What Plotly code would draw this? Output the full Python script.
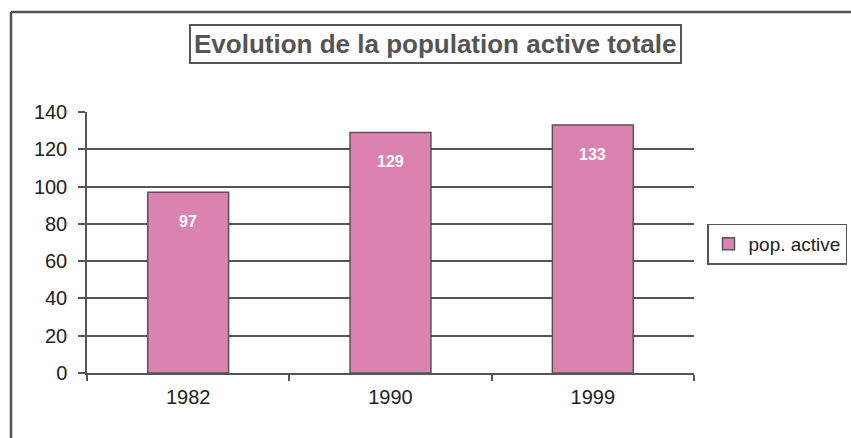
import plotly.graph_objects as go

years = ["1982", "1990", "1999"]
values = [97, 129, 133]
series_name = "pop. active"
title_text = "Evolution de la population active totale"
y_ticks = [0, 20, 40, 60, 80, 100, 120, 140]

FONT = "Liberation Sans"
GRAY = "#555555"

fig = go.Figure()
fig.add_trace(go.Bar(
    x=years, y=values, name=series_name,
    marker=dict(color="#db82b0", line=dict(color=GRAY, width=1.5)),
))

for i, v in enumerate(values):
    fig.add_annotation(x=i, y=v, text="<b>%d</b>" % v, showarrow=False,
                       yshift=-29, font=dict(family=FONT, size=16, color="white"))

fig.add_annotation(xref="paper", yref="paper", x=(435 - 87) / 607, y=(373 - 44) / 261,
                   text="<b>" + title_text + "</b>",
                   showarrow=False, font=dict(family=FONT, size=26, color=GRAY),
                   bordercolor=GRAY, borderwidth=2, borderpad=3, bgcolor="white",
                   xanchor="center", yanchor="middle")

# outer chart frame (left and top edges)
fig.add_shape(type="line", xref="paper", yref="paper", x0=(11-87)/607, x1=(11-87)/607,
              y0=(373-440)/261, y1=(373-12)/261, line=dict(color=GRAY, width=2.5))
fig.add_shape(type="line", xref="paper", yref="paper", x0=(11-87)/607, x1=(853-87)/607,
              y0=(373-12)/261, y1=(373-12)/261, line=dict(color=GRAY, width=2.5))

fig.update_layout(
    width=851, height=438,
    margin=dict(l=87, r=157, t=112, b=65, autoexpand=False),
    paper_bgcolor="white", plot_bgcolor="white",
    bargap=0.6,
    showlegend=True,
    legend=dict(x=(707 - 87) / 607, y=(373 - 244) / 261, xanchor="left", yanchor="middle",
                bordercolor=GRAY, borderwidth=1.5,
                font=dict(family=FONT, size=19, color="#222222"),
                itemwidth=30),
    font=dict(family=FONT, size=20, color="#222222"),
)
fig.update_xaxes(type="category", range=[-0.5, 2.5], showline=True, linecolor=GRAY, linewidth=1.5,
                 ticks="outside", tickson="boundaries", ticklen=6, tickcolor=GRAY, tickwidth=1.5,
                 tickfont=dict(size=20, color="#222222"), showgrid=False, tickangle=0,
                 ticklabelstandoff=5)
fig.update_yaxes(range=[0, 140], tickvals=y_ticks, showline=True, linecolor=GRAY, linewidth=1.5,
                 ticks="outside", ticklen=7, tickcolor=GRAY, tickwidth=1.5,
                 showgrid=True, gridcolor=GRAY, gridwidth=1.5, zeroline=False,
                 tickfont=dict(size=20, color="#222222"), ticklabelstandoff=7)

fig.write_html("out.html", config={"displayModeBar": False},
               post_script="document.body.style.margin='0';")
